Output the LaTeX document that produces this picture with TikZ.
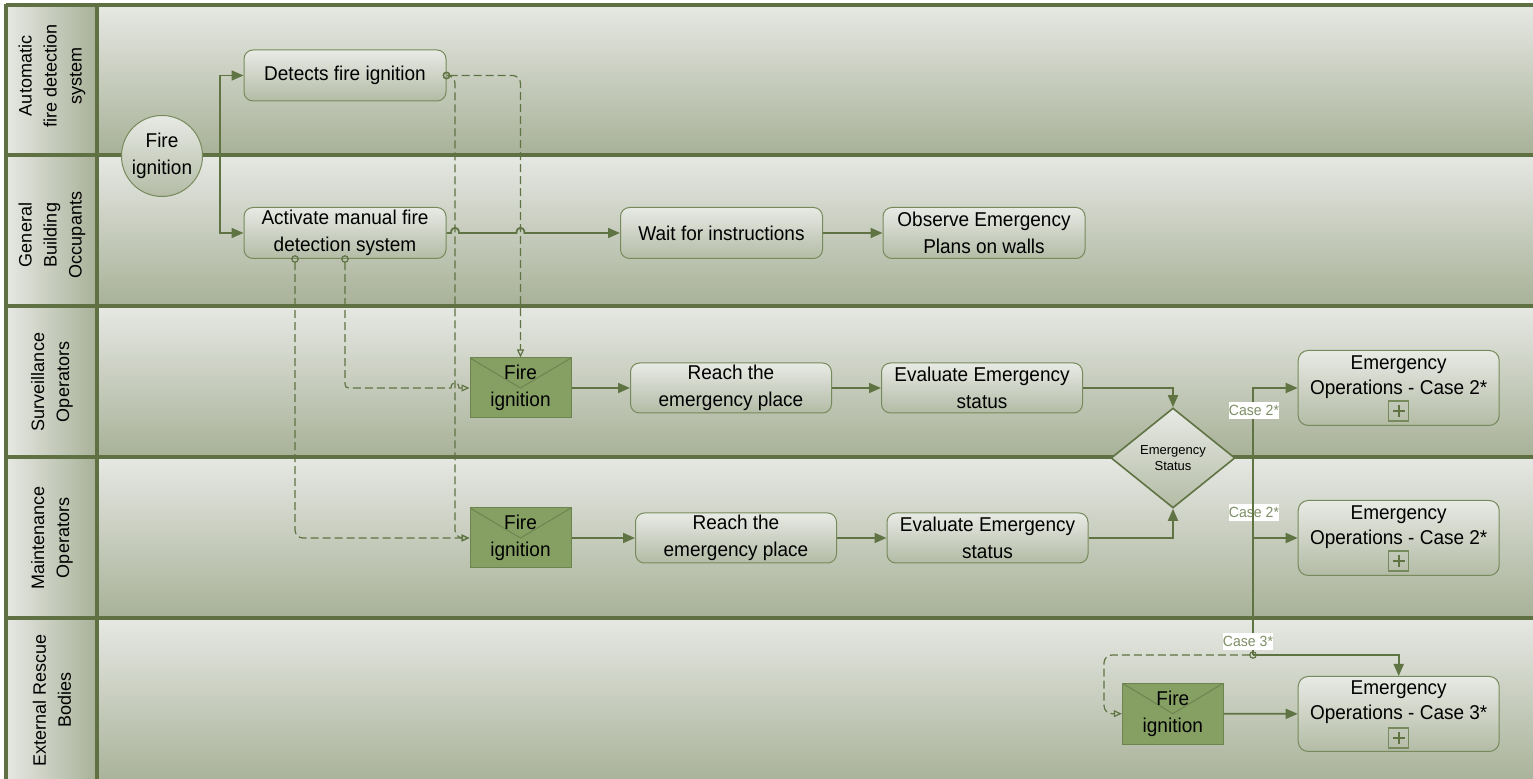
\documentclass[tikz,border=0pt]{standalone}
\usepackage{fontspec}
\setmainfont{Liberation Sans}
\newfontfamily\nf[FakeStretch=0.95]{Liberation Sans}
\usetikzlibrary{arrows.meta,shapes.geometric,calc}
\definecolor{lanelinec}{HTML}{5F7043}
\definecolor{flowc}{HTML}{5F7343}
\definecolor{nodeborder}{HTML}{778A5B}
\definecolor{bgtop}{HTML}{E6E8E3}
\definecolor{bgbot}{HTML}{A8B198}
\definecolor{ntop}{HTML}{E8EAE5}
\definecolor{nbot}{HTML}{B3BBA5}
\definecolor{envfill}{HTML}{86A064}
\definecolor{envborder}{HTML}{6E8450}
\definecolor{casetext}{HTML}{7E8E64}
\begin{document}
\begin{tikzpicture}[x=0.5pt,y=-0.5pt,
  lanebg/.style={top color=bgtop,bottom color=bgbot,draw=none},
  labelbg/.style={left color=bgtop,right color=bgbot,draw=none},
  laneline/.style={draw=lanelinec,line width=1.6pt},
  lanelabel/.style={rotate=90,align=center,font=\fontsize{9}{12.5}\selectfont},
  task/.style={draw=nodeborder,line width=0.5pt,top color=ntop,bottom color=nbot,rounded corners=4.5pt,minimum width=101pt,minimum height=25.5pt,inner sep=0pt,align=center,font=\fontsize{10}{13.5}\selectfont\nf},
  eobox/.style={task,minimum width=100.5pt,minimum height=37.5pt,rounded corners=5pt},
  eotext/.style={align=center,inner sep=0pt,font=\fontsize{10}{12.5}\selectfont\nf},
  plusbox/.style={draw=nodeborder,line width=0.6pt,minimum size=10pt,inner sep=0pt,
    path picture={\draw[flowc,line width=1.1pt] ($(path picture bounding box.center)+(-6,0)$) -- ($(path picture bounding box.center)+(6,0)$) ($(path picture bounding box.center)+(0,-6)$) -- ($(path picture bounding box.center)+(0,6)$);}},
  startev/.style={circle,draw=nodeborder,line width=0.5pt,top color=ntop,bottom color=nbot,minimum size=40.5pt,inner sep=0pt,align=center,font=\fontsize{10}{13.5}\selectfont\nf},
  envelope/.style={rectangle,fill=envfill,draw=envborder,line width=0.5pt,minimum width=50.5pt,minimum height=30pt,inner sep=0pt,align=center,font=\fontsize{10}{13.5}\selectfont\nf,
    path picture={\draw[envborder,line width=0.5pt] (path picture bounding box.north west) -- (path picture bounding box.center) -- (path picture bounding box.north east);}},
  gateway/.style={diamond,draw=flowc,line width=0.8pt,top color=ntop,bottom color=nbot,minimum width=62pt,minimum height=50pt,inner sep=0pt,align=center,font=\fontsize{6.5}{8.3}\selectfont},
  caselabel/.style={fill=white,text=casetext,inner sep=0pt,minimum width=25pt,minimum height=8.5pt,font=\fontsize{7.4}{7.4}\selectfont\nf},
  flowline/.style={draw=flowc,line width=0.9pt},
  flowarrow/.style={flowline,-{Triangle[length=6pt,width=5pt]}},
  msg/.style={draw=flowc,line width=0.6pt,dash pattern=on 4pt off 2pt,{Circle[open,length=3.8pt,width=3.8pt]}-{Triangle[open,length=4pt,width=3.5pt]},shorten <=-1.9pt}
]
\useasboundingbox (0,0) rectangle (1533,779);
\clip (0,0) rectangle (1533,779);
% lanes
\shade[lanebg] (97,5) rectangle (1540,155);
\shade[lanebg] (97,155) rectangle (1540,306);
\shade[lanebg] (97,306) rectangle (1540,457);
\shade[lanebg] (97,457) rectangle (1540,618);
\shade[lanebg] (97,618) rectangle (1540,785);
\shade[labelbg] (6,5) rectangle (97,155);
\shade[labelbg] (6,155) rectangle (97,306);
\shade[labelbg] (6,306) rectangle (97,457);
\shade[labelbg] (6,457) rectangle (97,618);
\shade[labelbg] (6,618) rectangle (97,785);
\foreach \yy in {5,155,306,457,618} \draw[laneline] (6,\yy) -- (1540,\yy);
\draw[laneline] (6,4) -- (6,785);
\draw[laneline] (97,5) -- (97,785);
\node[lanelabel] (l1) at (52,76) {Automatic\\fire detection\\system};
\node[lanelabel] (l2) at (52,235) {General\\Building\\Occupants};
\node[lanelabel] (l3) at (52,382) {Surveillance\\Operators};
\node[lanelabel] (l4) at (52,538) {Maintenance\\Operators};
\node[lanelabel] (l5) at (52,700) {External Rescue\\Bodies};
% nodes
\node[startev] (start) at (162,156) {Fire\\ignition};
\node[task] (detect) at (345,75.5) {Detects fire ignition};
\node[task] (activate) at (345,233) {Activate manual fire\\detection system};
\node[task] (wait) at (721.5,233) {Wait for instructions};
\node[task] (observe) at (984,233) {Observe Emergency\\Plans on walls};
\node[envelope] (envS) at (520.5,388) {Fire\\ignition};
\node[task,minimum width=100.5pt,minimum height=25pt] (reachS) at (731,388) {Reach the\\emergency place};
\node[task,minimum width=100.5pt,minimum height=25pt] (evalS) at (982,388) {Evaluate Emergency\\status};
\node[envelope] (envM) at (520.5,538) {Fire\\ignition};
\node[task,minimum width=100.5pt,minimum height=25pt] (reachM) at (736,538) {Reach the\\emergency place};
\node[task,minimum width=100.5pt,minimum height=25pt] (evalM) at (987.5,538) {Evaluate Emergency\\status};
\node[gateway] (gw) at (1173,458) {Emergency\\Status};
\node[eobox] (eo1) at (1398.7,388) {};
\node[eotext] (eo1t) at ($(eo1.center)+(0,-11)$) {Emergency\\Operations - Case 2*};
\node[plusbox] (eo1p) at ($(eo1.south)+(0,-15)$) {};
\node[eobox] (eo2) at (1398.7,538) {};
\node[eotext] (eo2t) at ($(eo2.center)+(0,-11)$) {Emergency\\Operations - Case 2*};
\node[plusbox] (eo2p) at ($(eo2.south)+(0,-15)$) {};
\node[envelope,minimum height=30.5pt] (envE) at (1172.8,713.7) {Fire\\ignition};
\node[eobox] (eo3) at (1398.7,714) {};
\node[eotext] (eo3t) at ($(eo3.center)+(0,-11.5)$) {Emergency\\Operations - Case 3*};
\node[plusbox] (eo3p) at ($(eo3.south)+(0,-14)$) {};
% junction coordinates
\coordinate (j0) at (220,156);
\coordinate (jt) at (1253,458);
\coordinate (ja) at (1253,388);
\coordinate (jb) at (1253,538);
\coordinate (jc) at (1253,655);
% sequence flows
\draw[flowline] (start.east) -- (j0);
\draw[flowarrow] (j0) |- (detect.west);
\draw[flowarrow] (j0) |- (activate.west);
\draw[flowarrow] (activate.east) -- (451,233) .. controls (451,226) and (459,226) .. (459,233) -- (516.5,233) .. controls (516.5,226) and (524.5,226) .. (524.5,233) -- (wait.west);
\draw[flowarrow] (wait) -- (observe);
\draw[flowarrow] (envS) -- (reachS);
\draw[flowarrow] (reachS) -- (evalS);
\draw[flowarrow] (evalS.east) -| (gw.north);
\draw[flowarrow] (envM) -- (reachM);
\draw[flowarrow] (reachM) -- (evalM);
\draw[flowarrow] (evalM.east) -| (gw.south);
\node[caselabel] (c2b) at (1254,512.5) {Case 2*};
\draw[flowline] (gw.east) -- (jt);
\draw[flowarrow] (jc) |- (eo1.west);
\draw[flowarrow] (jb) -- (eo2.west);
\draw[flowarrow] (jc) -| (eo3.north);
\draw[flowarrow] (envE) -- (eo3);
% message flows
\draw[msg,rounded corners=4pt] (detect.east) -- (520.5,75.5) -- (envS.north);
\draw[msg,rounded corners=4pt] (detect.east) -- (455,75.5) -- (455,538) -- (envM.west);
\draw[msg] (activate.south) -- (345,380) .. controls (345,388) .. (353,388) -- (451,388) .. controls (451,381) and (459,381) .. (459,388) -- (envS.west);
\draw[msg,rounded corners=4pt] ($(activate.south)+(-50,0)$) -- (295,538) -- (envM.west);
\draw[msg,rounded corners=4pt] (jc) -- (1104,655) -- (1104,713.7) -- (envE.west);
% case labels
\node[caselabel] (c2a) at (1254,410.5) {Case 2*};
\node[caselabel] (c3) at (1248,641.7) {Case 3*};
\end{tikzpicture}
\end{document}
